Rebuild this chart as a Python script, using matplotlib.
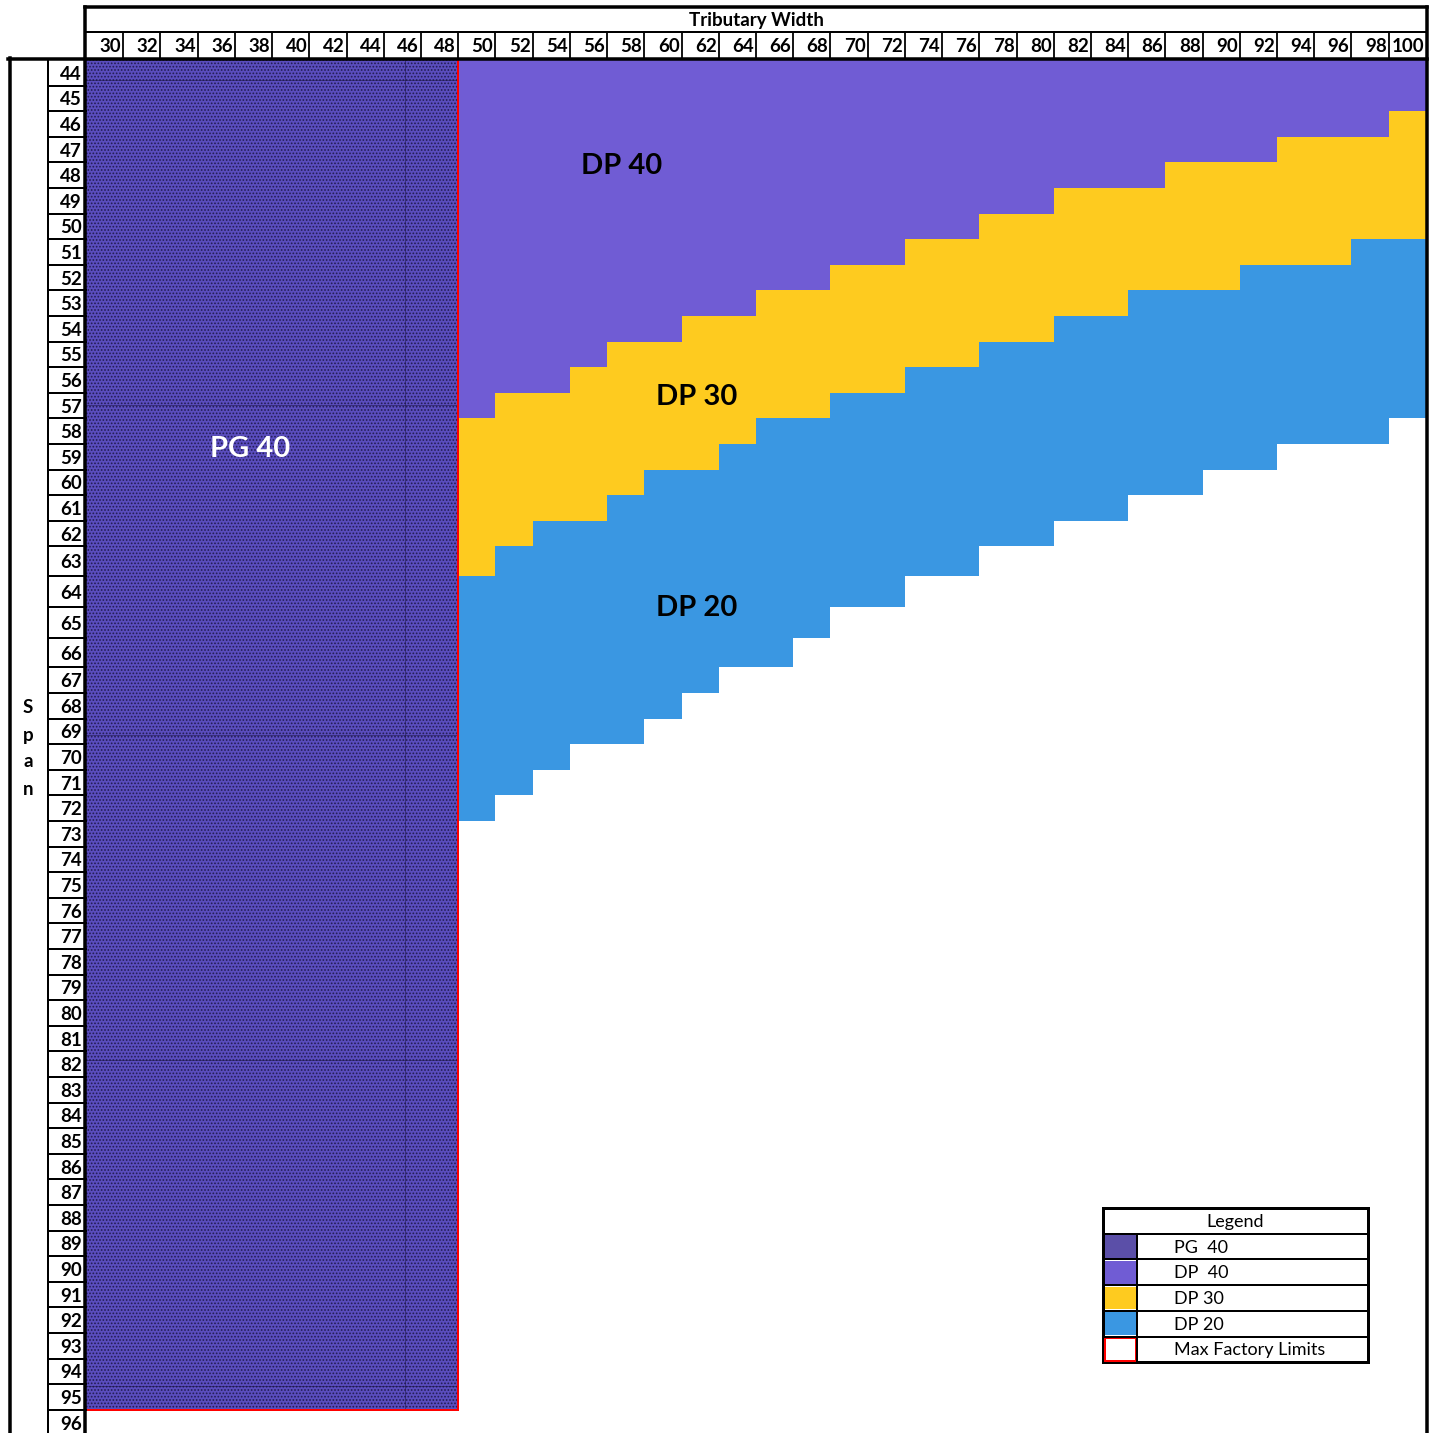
import numpy as np
import matplotlib
matplotlib.use("Agg")
import matplotlib.pyplot as plt
from matplotlib.patches import Rectangle

plt.rcParams['font.family'] = ['Lato', 'DejaVu Sans']
plt.rcParams['hatch.linewidth'] = 0.8

# tributary widths (columns) and spans (rows)
widths = [30, 32, 34, 36, 38, 40, 42, 44, 46, 48, 50, 52, 54, 56, 58, 60, 62, 64,
          66, 68, 70, 72, 74, 76, 78, 80, 82, 84, 86, 88, 90, 92, 94, 96, 98, 100]
spans = [44, 45, 46, 47, 48, 49, 50, 51, 52, 53, 54, 55, 56, 57, 58, 59, 60, 61, 62,
         63, 64, 65, 66, 67, 68, 69, 70, 71, 72, 73, 74, 75, 76, 77, 78, 79, 80, 81,
         82, 83, 84, 85, 86, 87, 88, 89, 90, 91, 92, 93, 94, 95, 96]

# PG 40 block
pg40_widths = [30, 32, 34, 36, 38, 40, 42, 44, 46, 48]
pg40_max_span = 95

# DP max span per tributary width
dp_widths = [50, 52, 54, 56, 58, 60, 62, 64, 66, 68, 70, 72, 74, 76, 78, 80, 82, 84,
             86, 88, 90, 92, 94, 96, 98, 100]
dp40_max = [57, 56, 56, 55, 54, 54, 53, 53, 52, 52, 51, 51, 50, 50, 49, 49, 48, 48,
            48, 47, 47, 47, 46, 46, 46, 45]
dp30_max = [63, 62, 61, 61, 60, 59, 59, 58, 57, 57, 56, 56, 55, 55, 54, 54, 53, 53,
            52, 52, 52, 51, 51, 51, 50, 50]
dp20_max = [72, 71, 70, 69, 69, 68, 67, 66, 66, 65, 64, 64, 63, 63, 62, 62, 61, 61,
            60, 60, 59, 59, 58, 58, 58, 57]

legend_labels = ["PG  40", "DP  40", "DP 30", "DP 20", "Max Factory Limits"]
legend_colors = ["#5b4fa8", "#705cd4", "#fecb1f", "#3a97e2", "white"]

C_PG, C_DP40, C_DP30, C_DP20 = "#5a4dbe", "#705cd4", "#fecb1f", "#3a97e2"

# layout (pixels)
W, H = 1436, 1433
X0, CW = 86, 37.22
Y0 = 60
tall_rows = {63: 30, 64: 31, 65: 31, 66: 29}
row_h = [tall_rows.get(s, 25.6) for s in spans]
row_edges = Y0 + np.concatenate([[0], np.cumsum(row_h)])
PX = 0.72  # px -> points


def col_left(w):
    return X0 + widths.index(w) * CW


def row_top(s):
    return row_edges[spans.index(s)]


def row_bot(s):
    return row_edges[spans.index(s) + 1]


fig = plt.figure(figsize=(W / 100, H / 100), dpi=100)
ax = fig.add_axes([0, 0, 1, 1])
ax.set_xlim(0, W)
ax.set_ylim(H, 0)
ax.axis('off')

# DP regions, drawn back to front so there are no seams
xs = [col_left(w) for w in dp_widths] + [col_left(dp_widths[-1]) + CW]
top = row_top(spans[0])
for maxes, color in [(dp20_max, C_DP20), (dp30_max, C_DP30), (dp40_max, C_DP40)]:
    bots = [row_bot(s) for s in maxes]
    bots.append(bots[-1])
    ax.fill_between(xs, top, bots, step='post', color=color, lw=0)

# PG 40 block
pg_x = col_left(pg40_widths[0])
pg_w = len(pg40_widths) * CW
pg_y = row_top(spans[0])
pg_h = row_bot(pg40_max_span) - pg_y
ax.add_patch(Rectangle((pg_x, pg_y), pg_w, pg_h, facecolor=C_PG,
                       edgecolor="#221c52", hatch='.....', lw=0))
for yy in [80, 405, 735, 1060, 1386]:
    ax.plot([pg_x, pg_x + pg_w], [yy, yy], color="#1a1540", lw=1 * PX, ls=(0, (1, 1)))
ax.plot([405, 405], [pg_y, pg_y + pg_h], color="#1a1540", lw=1 * PX, ls=(0, (1, 1)))
ax.plot([pg_x + pg_w, pg_x + pg_w, pg_x], [pg_y, pg_y + pg_h, pg_y + pg_h],
        color="#ff0000", lw=2 * PX, solid_joinstyle='miter')

# region labels
ax.text(622, 166, "DP 40", fontsize=21, fontweight='bold', ha='center', va='center')
ax.text(697, 397, "DP 30", fontsize=21, fontweight='bold', ha='center', va='center')
ax.text(697, 608, "DP 20", fontsize=21, fontweight='bold', ha='center', va='center')
ax.text(250, 449, "PG 40", fontsize=21, fontweight='bold', ha='center', va='center',
        color='white')

# header
right = X0 + len(widths) * CW
ax.text((X0 + right) / 2, 20, "Tributary Width", fontsize=13.5, fontweight='bold',
        ha='center', va='center')
for w in widths:
    ax.text(col_left(w) + CW - 2, 46, str(w), fontsize=13.5, fontweight='bold',
            ha='right', va='center')
for k in range(1, len(widths)):
    ax.plot([X0 + k * CW] * 2, [32, 59], color='black', lw=1.8 * PX)
ax.plot([X0 - 1, right + 1], [32, 32], color='black', lw=2 * PX)

# row labels
for s in spans:
    ax.text(82, (row_top(s) + row_bot(s)) / 2 + 1.5, str(s), fontsize=13.5,
            fontweight='bold', ha='right', va='center')
for e in row_edges[1:]:
    ax.plot([48, X0], [e, e], color='black', lw=2 * PX)
ax.plot([48, 48], [59, H], color='black', lw=2 * PX)
for ch, yy in zip("Span", [707, 735, 761, 789]):
    ax.text(28, yy, ch, fontsize=13.5, fontweight='bold', ha='center', va='center')

# thick borders
thick = 3.5 * PX
ax.plot([X0 - 1.5, right + 1.5], [7, 7], color='black', lw=thick, solid_capstyle='projecting')
ax.plot([X0 - 1.5, X0 - 1.5], [7, H], color='black', lw=thick)
ax.plot([right + 1.5, right + 1.5], [7, H], color='black', lw=thick)
ax.plot([8, right + 1.5], [59, 59], color='black', lw=thick)
ax.plot([9.5, 9.5], [58, H], color='black', lw=thick)

# legend table
lx, ly, lw_, lrow, sw = 1103, 1208, 265, 25.7, 34
ax.add_patch(Rectangle((lx, ly), lw_, lrow * 6, fill=False, edgecolor='black', lw=3 * PX))
ax.text(lx + lw_ / 2, ly + lrow / 2 + 1, "Legend", fontsize=13, ha='center', va='center')
for i, (lab, col) in enumerate(zip(legend_labels, legend_colors)):
    y = ly + lrow * (i + 1)
    ax.plot([lx, lx + lw_], [y, y], color='black', lw=2 * PX)
    edge = '#ff0000' if col == 'white' else 'none'
    ax.add_patch(Rectangle((lx + 1.5, y + 1.5), sw - 3, lrow - 3, facecolor=col,
                           edgecolor=edge, lw=2 * PX))
    ax.text(lx + 71, y + lrow / 2 + 1, lab, fontsize=13, ha='left', va='center')
ax.plot([lx + sw, lx + sw], [ly + lrow, ly + lrow * 6], color='black', lw=2 * PX)

fig.savefig("out.png", dpi=100)
